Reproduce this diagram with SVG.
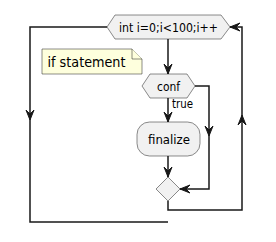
<svg xmlns="http://www.w3.org/2000/svg" width="276" height="242" viewBox="0 0 276 242">
<style>
.shape{fill:#F1F1F1;stroke:#181818;stroke-width:0.5}
.note{fill:#FEFFDD;stroke:#181818;stroke-width:0.5}
.line{fill:none;stroke:#181818;stroke-width:1.5}
.head{fill:#181818;stroke:#181818;stroke-width:1}
text{font-family:"DejaVu Sans",sans-serif;fill:#000000}
.t12{font-size:13px}
.t13{font-size:14px}
.t11{font-size:12px}
</style>
<rect width="276" height="242" fill="#FFFFFF"/>
<g id="connectors">
<polyline class="line" points="168,39 168,74"/>
<polygon class="head" points="164,64 168,74 172,64 168,68"/>
<polyline class="line" points="168,98 168,122"/>
<polygon class="head" points="164,112 168,122 172,112 168,116"/>
<polyline class="line" points="168,156 168,177"/>
<polygon class="head" points="164,167 168,177 172,167 168,171"/>
<polyline class="line" points="195,86 209,86 209,189 180,189"/>
<polygon class="head" points="205,126 209,136 213,126 209,130"/>
<polygon class="head" points="190,185 180,189 190,193 186,189"/>
<polyline class="line" points="168,201 168,210 242,210 242,27 230,27"/>
<polygon class="head" points="238,125 242,115 246,125 242,121"/>
<polygon class="head" points="240,23 230,27 240,31 236,27"/>
<polyline class="line" points="107,27 30,27 30,222 168,222"/>
<polygon class="head" points="26,110 30,120 34,110 30,114"/>
<text class="t11" x="172" y="108" textLength="21" lengthAdjust="spacingAndGlyphs">true</text>
</g>
<g id="loop">
<polygon class="shape" points="107,27 115,15 221,15 230,27 221,39 115,39"/>
<text class="t12" x="119" y="32" textLength="99" lengthAdjust="spacingAndGlyphs">int i=0;i&lt;100;i++</text>
</g>
<g id="note">
<path class="note" d="M42,49 L132,49 L142,59 L142,74 L42,74 Z"/>
<path class="note" d="M132,49 L132,59 L142,59"/>
<text class="t13" x="47.5" y="66.5" textLength="78" lengthAdjust="spacingAndGlyphs">if statement</text>
</g>
<g id="conf">
<polygon class="shape" points="142,86 150,74 187,74 195,86 187,98 150,98"/>
<text class="t12" x="157" y="91" textLength="23" lengthAdjust="spacingAndGlyphs">conf</text>
</g>
<g id="finalize">
<rect class="shape" x="137" y="122" width="63" height="34" rx="12.5" ry="12.5"/>
<text class="t12" x="148" y="144" textLength="42" lengthAdjust="spacingAndGlyphs">finalize</text>
</g>
<g id="merge">
<polygon class="shape" points="168,177 180,189 168,201 156,189"/>
</g>
</svg>
